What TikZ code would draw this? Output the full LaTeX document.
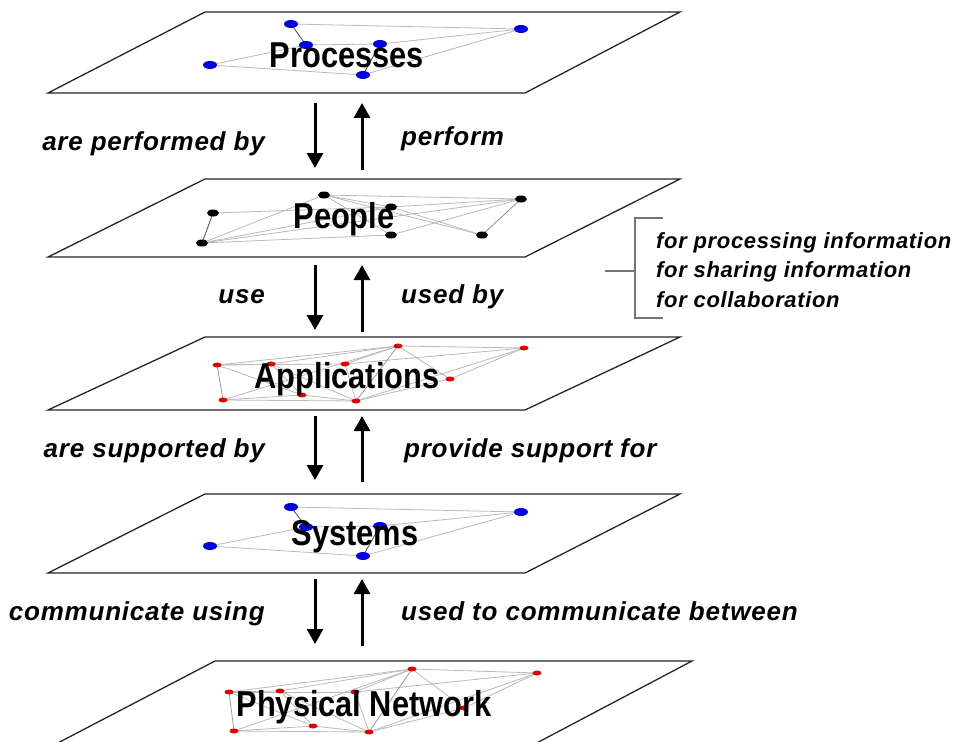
\documentclass[tikz,border=0pt]{standalone}
\usepackage{fontspec}
\setmainfont{Liberation Sans}
\newfontfamily\labfont[LetterSpace=3]{Liberation Sans}
\usetikzlibrary{arrows.meta,shapes.geometric}
\begin{document}
\begin{tikzpicture}[x=1pt,y=-1pt,
 plane/.style={draw=black!85,line width=1.3pt,fill=white,line join=miter},
 ttl/.style={font=\bfseries\fontsize{36}{36}\selectfont,anchor=base,inner sep=0pt},
 lab/.style={font=\labfont\bfseries\itshape\fontsize{26}{26}\selectfont,inner sep=0pt},
 side/.style={font=\labfont\bfseries\itshape\fontsize{22}{22}\selectfont,inner sep=0pt,anchor=base west},
 darr/.style={line width=3pt,-{Triangle[length=15pt,width=16pt]}},
 ledge/.style={draw=black!27,line width=0.8pt},
 dedge/.style={draw=black!65,line width=0.9pt},
 bdot/.style={ellipse,fill=blue!90!black,minimum width=14pt,minimum height=8pt,inner sep=0pt},
 kdot/.style={ellipse,fill=black,minimum width=12pt,minimum height=7pt,inner sep=0pt},
 rdot/.style={ellipse,fill=red!90!black,minimum width=9pt,minimum height=5pt,inner sep=0pt},
 brk/.style={draw=black!55,line width=1.1pt},
]
\useasboundingbox (0,0) rectangle (955,741);
\fill[white] (0,0) rectangle (955,741);

% ---------- planes ----------
\draw[plane] (205,12) -- (680,12) -- (525,93) -- (48,93) -- cycle;
\draw[plane] (205,179) -- (680,179) -- (525,257) -- (48,257) -- cycle;
\draw[plane] (205,337) -- (680,337) -- (525,410) -- (48,410) -- cycle;
\draw[plane] (205,494) -- (680,494) -- (525,573) -- (48,573) -- cycle;
\draw[plane] (215,661) -- (692,661) -- (531,746) -- (52,746) -- cycle;

% ---------- Processes network ----------
\foreach \n/\x/\y in {a1/291/24,a2/521/29,a3/306/45,a4/380/44,a5/210/65,a6/363/75}
  \coordinate (\n) at (\x,\y);
\foreach \u/\v in {a1/a2,a3/a4,a2/a4,a2/a6,a5/a3,a5/a6}
  \draw[ledge] (\u) -- (\v);
\foreach \u/\v in {a1/a3,a6/a4}
  \draw[dedge] (\u) -- (\v);
\foreach \n in {a1,a2,a3,a4,a5,a6}
  \node[bdot] (\n-d) at (\n) {};

% ---------- People network ----------
\foreach \n/\x/\y in {p1/324/195,p2/521/199,p3/213/213,p4/391/207,p5/391/235,p6/482/235,p7/202/243}
  \coordinate (\n) at (\x,\y);
\foreach \u/\v in {p1/p2,p1/p4,p1/p5,p3/p4,p7/p1,p7/p5,p7/p2,p4/p2,p4/p6,p1/p6,p7/p4,p5/p2}
  \draw[ledge] (\u) -- (\v);
\draw[dedge] (p3) -- (p7);
\draw[draw=black!45,line width=0.8pt] (p2) -- (p6);
\foreach \n in {p1,p2,p3,p4,p5,p6,p7}
  \node[kdot] (\n-d) at (\n) {};

% ---------- Applications network ----------
\foreach \n/\x/\y in {r1/398/346,r2/524/348,r3/217/365,r4/271/364,r5/345/364,r6/450/379,r7/223/400,r8/302/395,r9/356/401}
  \coordinate (\n) at (\x,\y);
\foreach \u/\v in {r1/r2,r3/r1,r3/r4,r3/r8,r4/r8,r4/r1,r5/r1,r5/r9,r1/r6,r2/r6,r2/r9,r2/r5,r7/r8,r7/r9,r8/r9,r7/r1,r4/r9,r6/r9,r3/r5}
  \draw[ledge] (\u) -- (\v);
\foreach \u/\v in {r3/r7,r1/r9}
  \draw[draw=black!40,line width=0.8pt] (\u) -- (\v);
\foreach \n in {r1,r2,r3,r4,r5,r6,r7,r8,r9}
  \node[rdot] (\n-d) at (\n) {};

% ---------- Systems network ----------
\foreach \n/\x/\y in {s1/291/507,s2/521/512,s3/306/527,s4/380/526,s5/210/546,s6/363/556}
  \coordinate (\n) at (\x,\y);
\foreach \u/\v in {s1/s2,s3/s4,s2/s4,s2/s6,s5/s3,s5/s6}
  \draw[ledge] (\u) -- (\v);
\foreach \u/\v in {s1/s3,s6/s4}
  \draw[dedge] (\u) -- (\v);
\foreach \n in {s1,s2,s3,s4,s5,s6}
  \node[bdot] (\n-d) at (\n) {};

% ---------- Physical network ----------
\foreach \n/\x/\y in {q1/412/669,q2/537/673,q3/229/692,q4/280/691,q5/355/692,q6/464/708,q7/234/731,q8/313/726,q9/369/732}
  \coordinate (\n) at (\x,\y);
\foreach \u/\v in {q1/q2,q3/q1,q3/q4,q3/q8,q4/q8,q4/q1,q5/q1,q5/q9,q1/q6,q2/q6,q2/q9,q2/q5,q7/q8,q7/q9,q8/q9,q7/q1,q4/q9,q6/q9,q3/q5}
  \draw[ledge] (\u) -- (\v);
\foreach \u/\v in {q3/q7,q1/q9}
  \draw[draw=black!40,line width=0.8pt] (\u) -- (\v);
\foreach \n in {q1,q2,q3,q4,q5,q6,q7,q8,q9}
  \node[rdot] (\n-d) at (\n) {};

% ---------- titles ----------
\node[ttl] (tproc) at (347,68) {\scalebox{0.855}[1]{Processes}};
\node[ttl] (tpeop) at (344,228) {\scalebox{0.855}[1]{People}};
\node[ttl] (tappl) at (347,388) {\scalebox{0.855}[1]{Applications}};
\node[ttl] (tsyst) at (355,545) {\scalebox{0.855}[1]{Systems}};
\node[ttl] (tphys) at (364,716) {\scalebox{0.855}[1]{Physical Network}};

% ---------- arrows ----------
\coordinate (d1s) at (315,103); \coordinate (d1e) at (315,168);
\coordinate (u1s) at (362,170); \coordinate (u1e) at (362,103);
\coordinate (d2s) at (315,265); \coordinate (d2e) at (315,330);
\coordinate (u2s) at (362,332); \coordinate (u2e) at (362,265);
\coordinate (d3s) at (315,416); \coordinate (d3e) at (315,480);
\coordinate (u3s) at (362,482); \coordinate (u3e) at (362,416);
\coordinate (d4s) at (315,579); \coordinate (d4e) at (315,644);
\coordinate (u4s) at (362,646); \coordinate (u4e) at (362,579);
\foreach \i in {1,2,3,4} {
  \draw[darr] (d\i s) -- (d\i e);
  \draw[darr] (u\i s) -- (u\i e);
}

% ---------- labels ----------
\node[lab,anchor=base east] (l1) at (265,150) {are performed by};
\node[lab,anchor=base west] (m1) at (401,146) {perform};
\node[lab,anchor=base east] (l2) at (265,303) {use};
\node[lab,anchor=base west] (m2) at (401,303) {used by};
\node[lab,anchor=base east] (l3) at (265,457) {are supported by};
\node[lab,anchor=base west] (m3) at (404,457) {provide support for};
\node[lab,anchor=base east] (l4) at (265,620) {communicate using};
\node[lab,anchor=base west] (m4) at (401,620) {used to communicate between};

% ---------- side note ----------
\node[side] (n1) at (656,248) {for processing information};
\node[side] (n2) at (656,277) {for sharing information};
\node[side] (n3) at (656,307) {for collaboration};
\coordinate (bt) at (663,218); \coordinate (btl) at (635,218);
\coordinate (bbl) at (635,318); \coordinate (bb) at (663,318);
\coordinate (bm) at (635,271); \coordinate (bml) at (605,271);
\draw[brk] (bt) -- (btl) -- (bbl) -- (bb);
\draw[brk] (bm) -- (bml);
\end{tikzpicture}
\end{document}
